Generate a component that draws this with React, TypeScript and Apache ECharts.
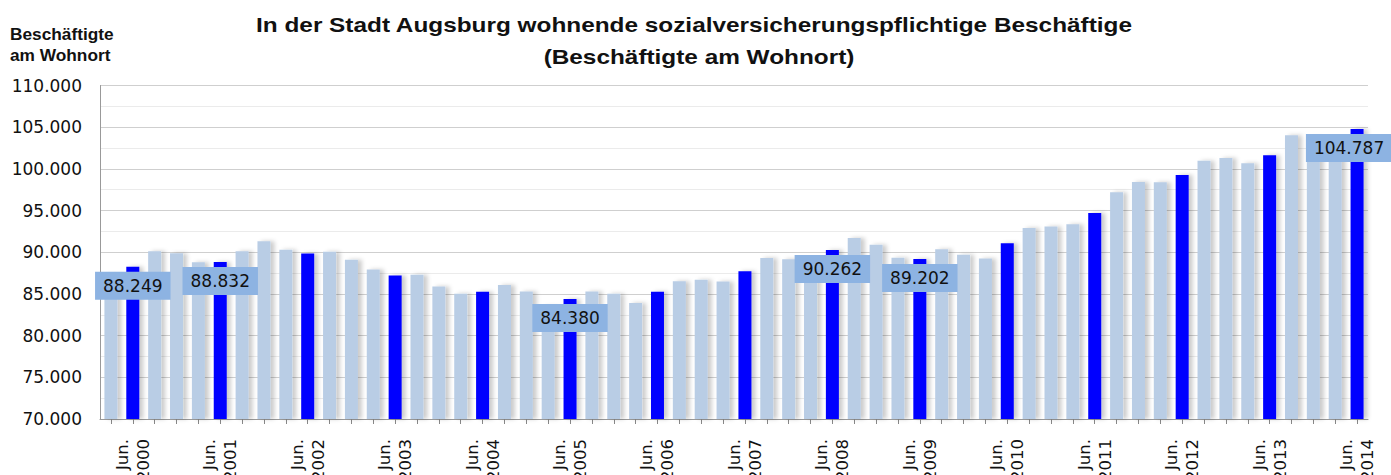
import React, { useEffect, useRef } from 'react';
import * as echarts from 'echarts';

const categories = [
  'Mär. 2000', 'Jun. 2000', 'Sep. 2000', 'Dez. 2000',
  'Mär. 2001', 'Jun. 2001', 'Sep. 2001', 'Dez. 2001',
  'Mär. 2002', 'Jun. 2002', 'Sep. 2002', 'Dez. 2002',
  'Mär. 2003', 'Jun. 2003', 'Sep. 2003', 'Dez. 2003',
  'Mär. 2004', 'Jun. 2004', 'Sep. 2004', 'Dez. 2004',
  'Mär. 2005', 'Jun. 2005', 'Sep. 2005', 'Dez. 2005',
  'Mär. 2006', 'Jun. 2006', 'Sep. 2006', 'Dez. 2006',
  'Mär. 2007', 'Jun. 2007', 'Sep. 2007', 'Dez. 2007',
  'Mär. 2008', 'Jun. 2008', 'Sep. 2008', 'Dez. 2008',
  'Mär. 2009', 'Jun. 2009', 'Sep. 2009', 'Dez. 2009',
  'Mär. 2010', 'Jun. 2010', 'Sep. 2010', 'Dez. 2010',
  'Mär. 2011', 'Jun. 2011', 'Sep. 2011', 'Dez. 2011',
  'Mär. 2012', 'Jun. 2012', 'Sep. 2012', 'Dez. 2012',
  'Mär. 2013', 'Jun. 2013', 'Sep. 2013', 'Dez. 2013',
  'Mär. 2014', 'Jun. 2014',
];

const values = [
  87300, 88249, 90130, 89890,
  88810, 88832, 90130, 91330,
  90285, 89842, 90046, 89087,
  87926, 87207, 87290, 85890,
  85014, 85254, 86057, 85290,
  83500, 84380, 85290, 85014,
  83900, 85254, 86536, 86692,
  86488, 87734, 89310, 89171,
  89000, 90262, 91723, 90885,
  89327, 89202, 90370, 89687,
  89243, 91088, 92921, 93077,
  93365, 94718, 97198, 98432,
  98396, 99271, 100984, 101307,
  100672, 101630, 104027, 103700,
  103300, 104787,
];

const labeledCategories = ['Jun. 2000', 'Jun. 2001', 'Jun. 2005', 'Jun. 2008', 'Jun. 2009', 'Jun. 2014'];

const yTicks = { min: 70000, max: 110000, interval: 5000 };

const titleLines = [
  'In der Stadt Augsburg wohnende sozialversicherungspflichtige Beschäftige',
  '(Beschäftigte am Wohnort)',
];
const yAxisTitleLines = ['Beschäftigte', 'am Wohnort'];

const fmt = (v: number) => {
  const s = String(Math.round(v));
  return s.replace(/\B(?=(\d{3})+(?!\d))/g, '.');
};

export default function App() {
  const ref = useRef<HTMLDivElement>(null);
  useEffect(() => {
    document.body.style.margin = '0';
    const chart = echarts.init(ref.current!, null, { renderer: 'svg' });
    const data = values.map((v, i) => {
      const cat = categories[i];
      const isJun = cat.startsWith('Jun.');
      const labeled = labeledCategories.includes(cat);
      const item: any = {
        value: v,
        itemStyle: { color: isJun ? '#0000ff' : '#b9cde5' },
      };
      if (labeled) {
        item.label = {
          show: true,
          offset: i === values.length - 1 ? [-8, 0] : [0, 0],
        };
      }
      return item;
    });
    const titleFont = 'bold 21px "Liberation Sans"';
    chart.setOption({
      animation: false,
      backgroundColor: '#ffffff',
      graphic: [
        {
          type: 'text',
          x: 694,
          y: 25,
          scaleX: 1.16,
          style: {
            text: titleLines[0],
            font: titleFont,
            fill: '#111',
            align: 'center',
            verticalAlign: 'middle',
          },
        },
        {
          type: 'text',
          x: 699,
          y: 57,
          scaleX: 1.16,
          style: {
            text: titleLines[1],
            font: titleFont,
            fill: '#111',
            align: 'center',
            verticalAlign: 'middle',
          },
        },
        {
          type: 'text',
          x: 10,
          y: 35,
          scaleX: 1.08,
          style: {
            text: yAxisTitleLines[0],
            font: 'bold 16px "Liberation Sans"',
            fill: '#111',
            align: 'left',
            verticalAlign: 'middle',
          },
        },
        {
          type: 'text',
          x: 10,
          y: 56,
          scaleX: 1.08,
          style: {
            text: yAxisTitleLines[1],
            font: 'bold 16px "Liberation Sans"',
            fill: '#111',
            align: 'left',
            verticalAlign: 'middle',
          },
        },
      ],
      grid: { left: 100, right: 23, top: 85.5, bottom: 56, containLabel: false, outerBoundsMode: 'none' },
      xAxis: {
        type: 'category',
        data: categories,
        boundaryGap: true,
        axisLine: { lineStyle: { color: '#999', width: 1 } },
        axisTick: { show: true, interval: 0, alignWithLabel: true, length: 5, lineStyle: { color: '#888' } },
        axisLabel: {
          interval: 0,
          rotate: 90,
          margin: 20,
          fontFamily: 'DejaVu Sans',
          fontSize: 16.5,
          lineHeight: 21,
          color: '#111',
          hideOverlap: false,
          formatter: (v: string) => (v.startsWith('Jun.') ? v.replace(' ', '\n') : ''),
        },
        splitLine: { show: false },
      },
      yAxis: {
        type: 'value',
        min: yTicks.min,
        max: yTicks.max,
        interval: yTicks.interval,
        axisLine: { show: true, lineStyle: { color: '#999', width: 1 } },
        axisTick: { show: false },
        axisLabel: {
          margin: 18,
          fontFamily: 'DejaVu Sans',
          fontSize: 17,
          color: '#111',
          formatter: (v: number) => fmt(v),
        },
        splitLine: { show: true, lineStyle: { color: '#cfcfcf', width: 1 } },
        minorTick: { show: false, splitNumber: 2 },
        minorSplitLine: { show: true, lineStyle: { color: '#ebebeb', width: 1 } },
      },
      series: [
        {
          type: 'bar',
          data,
          barWidth: 13,
          itemStyle: {
            shadowColor: 'rgba(0,0,0,0.2)',
            shadowBlur: 4,
            shadowOffsetX: 4,
            shadowOffsetY: 0,
          },
          label: {
            show: false,
            position: 'insideTop',
            distance: 5,
            formatter: (p: any) => fmt(p.value),
            fontFamily: 'DejaVu Sans',
            fontSize: 17,
            lineHeight: 20,
            color: '#111',
            backgroundColor: '#8db3e2',
            padding: [4, 8, 4, 8],
          },
        },
      ],
    });
    return () => chart.dispose();
  }, []);
  return <div ref={ref} style={{ width: 1391, height: 475 }} />;
}
